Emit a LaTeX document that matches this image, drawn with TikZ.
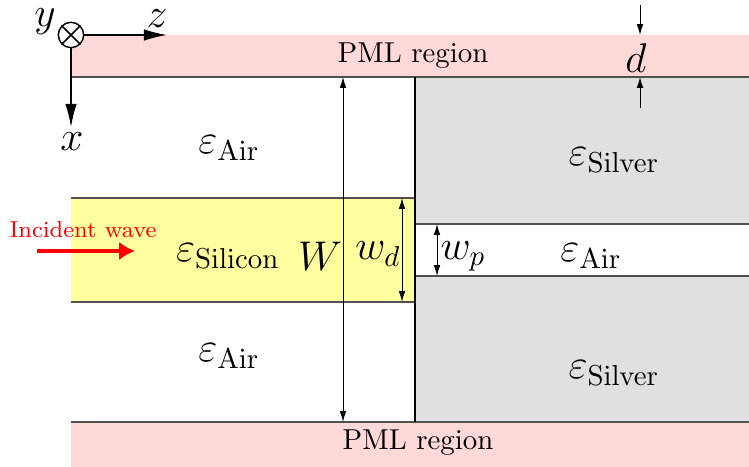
\documentclass[tikz,border=0pt]{standalone}
\usetikzlibrary{arrows.meta}
\definecolor{pml}{RGB}{255,216,216}
\definecolor{sil}{RGB}{255,255,160}
\definecolor{ag}{RGB}{224,224,224}
\definecolor{edge}{RGB}{80,80,80}
\begin{document}
\begin{tikzpicture}[x=0.347pt,y=-0.347pt,
  lbl/.style={font=\Large, inner sep=0pt},
  txt/.style={font=\normalsize, inner sep=0pt},
  bound/.style={line width=0.4pt, draw=edge},
  dim/.style={line width=0.35pt, {Latex[length=3.8pt,width=2.3pt]}-{Latex[length=3.8pt,width=2.3pt]}},
  dimone/.style={line width=0.35pt, -{Latex[length=3.8pt,width=2.3pt]}},
  axis/.style={line width=0.5pt, -{Latex[length=8pt,width=4pt]}},
  wave/.style={red, line width=1.6pt, -{Latex[length=5.5pt,width=6.4pt]}}]
\useasboundingbox (0,0) rectangle (749,467);
% regions
\fill[pml] (71,35) rectangle (749,77);
\fill[pml] (71,422) rectangle (749,467);
\fill[ag] (415,77) rectangle (749,422);
\fill[white] (415,224) rectangle (749,276);
\fill[sil] (71,198) rectangle (415,302);
% boundaries
\draw[bound] (71,77) -- (749,77);
\draw[bound] (71,422) -- (749,422);
\draw[bound] (71,198) -- (415,198);
\draw[bound] (71,302) -- (415,302);
\draw[bound] (415,224) -- (749,224);
\draw[bound] (415,276) -- (749,276);
\draw[line width=0.85pt] (415,77) -- (415,422);
% axes
\node (o) [circle, draw, line width=0.5pt, fill=white, minimum size=8.8pt, inner sep=0pt] at (71,35) {};
\draw[line width=0.5pt] (o.north west) -- (o.south east);
\draw[line width=0.5pt] (o.north east) -- (o.south west);
\coordinate (zt) at (167,35);
\coordinate (xt) at (71,127);
\draw[axis] (o.east) -- (zt);
\draw[axis] (o.south) -- (xt);
\node[lbl] (ly) at (45,22) {$y$};
\node[lbl] (lz) at (157,19) {$z$};
\node[lbl] (lx) at (72,142) {$x$};
% PML labels
\node[txt] (p1) at (413,56) {PML region};
\node[txt] (p2) at (418,443) {PML region};
% permittivities
\node[lbl] (e1) at (229,148) {$\varepsilon_{\mathrm{Air}}$};
\node[lbl] (e2) at (614,160) {$\varepsilon_{\mathrm{Silver}}$};
\node[lbl] (e3) at (228,256) {$\varepsilon_{\mathrm{Silicon}}$};
\node[lbl] (e4) at (591,256) {$\varepsilon_{\mathrm{Air}}$};
\node[lbl] (e5) at (229,356) {$\varepsilon_{\mathrm{Air}}$};
\node[lbl] (e6) at (614,373) {$\varepsilon_{\mathrm{Silver}}$};
% dimensions
\coordinate (wt) at (343,77);
\coordinate (wb) at (343,422);
\draw[dim] (wt) -- (wb);
\node[lbl] (lw) at (320,256) {$W$};
\coordinate (wdt) at (402,198);
\coordinate (wdb) at (402,302);
\draw[dim] (wdt) -- (wdb);
\node[lbl] (lwd) at (378,254) {$w_d$};
\coordinate (wpt) at (437,224);
\coordinate (wpb) at (437,276);
\draw[dim] (wpt) -- (wpb);
\node[lbl] (lwp) at (463,256) {$w_p$};
\coordinate (d1s) at (640,5);
\coordinate (d1e) at (640,35);
\coordinate (d2s) at (640,108);
\coordinate (d2e) at (640,77);
\draw[dimone] (d1s) -- (d1e);
\draw[dimone] (d2s) -- (d2e);
\node[lbl] (ld) at (636,58) {$d$};
% incident wave
\coordinate (ws) at (37,251);
\coordinate (we) at (135,251);
\draw[wave] (ws) -- (we);
\node[font=\footnotesize, text=red, inner sep=0pt] (li) at (83,230) {Incident wave};
\end{tikzpicture}
\end{document}
